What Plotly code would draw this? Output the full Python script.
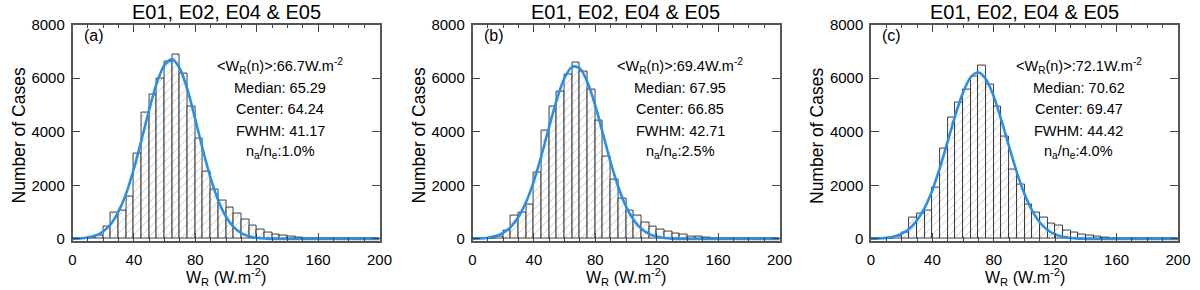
import plotly.graph_objects as go

# ---------------- data ----------------
bin_left = list(range(0, 200, 5))          # histogram bin left edges (width 5)
bin_width = 5

counts_a = [0, 25, 50, 112, 460, 1000, 1050, 1600, 3190, 4720,
            5400, 5990, 6610, 6880, 6170, 4950, 3750, 2500, 1830, 1420,
            1180, 950, 710, 500, 360, 250, 175, 115, 75, 50,
            37, 25, 15, 10, 8, 5, 3, 2, 1, 0]
counts_b = [0, 10, 30, 90, 310, 890, 990, 1290, 2480, 4040,
            4930, 5510, 6135, 6600, 6230, 5590, 4430, 3070, 2220, 1515,
            1060, 890, 610, 480, 340, 270, 210, 150, 110, 80,
            55, 35, 25, 15, 10, 6, 4, 2, 1, 0]
counts_c = [0, 10, 30, 100, 250, 795, 956, 1056, 1925, 3380,
            4520, 5080, 5580, 6050, 6460, 5760, 4930, 3830, 2600, 2020,
            1290, 990, 810, 590, 520, 300, 250, 175, 112, 85,
            50, 35, 20, 12, 8, 5, 3, 2, 1, 0]

curve_x = list(range(0, 205, 5))
curve_a = [8, 22, 55, 130, 280, 560, 1030, 1700, 2620, 3700,
           4830, 5830, 6500, 6700, 6350, 5550, 4460, 3310, 2270, 1430,
           830, 445, 220, 100, 42, 16, 6, 2, 0, 0,
           0, 0, 0, 0, 0, 0, 0, 0, 0, 0, 0]
curve_b = [7, 19, 48, 110, 232, 455, 830, 1390, 2170, 3130,
           4200, 5220, 6010, 6430, 6360, 5840, 4970, 3920, 2860, 1940,
           1215, 710, 380, 190, 88, 38, 15, 5, 2, 0,
           0, 0, 0, 0, 0, 0, 0, 0, 0, 0, 0]
curve_c = [7, 18, 43, 96, 200, 386, 696, 1170, 1830, 2680,
           3650, 4630, 5475, 6040, 6210, 5950, 5310, 4425, 3435, 2485,
           1675, 1055, 617, 337, 172, 82, 36, 15, 6, 2,
           0, 0, 0, 0, 0, 0, 0, 0, 0, 0, 0]

panel_labels = ["(a)", "(b)", "(c)"]
panel_title = "E01, E02, E04 & E05"
mean_w = ["66.7", "69.4", "72.1"]
medians = ["65.29", "67.95", "70.62"]
centers = ["64.24", "66.85", "69.47"]
fwhms = ["41.17", "42.71", "44.42"]
ratios = ["1.0", "2.5", "4.0"]

x_ticks = [0, 40, 80, 120, 160, 200]
y_ticks = [0, 2000, 4000, 6000, 8000]

# ---------------- layout constants ----------------
W, H = 1200, 290
FONT = "Liberation Sans, Arial, Helvetica, sans-serif"
BLUE = "#2A8FE6"
x_domains_px = [(72.5, 379.5), (472.5, 779.5), (871.0, 1178.0)]
y_dom = [1 - 241 / H, 1 - 24.5 / H]

fig = go.Figure()
all_counts = [counts_a, counts_b, counts_c]
all_curves = [curve_a, curve_b, curve_c]
centers_x = [l + bin_width / 2 for l in bin_left]

for i in range(3):
    xa = "x" if i == 0 else f"x{i+1}"
    ya = "y" if i == 0 else f"y{i+1}"
    fig.add_trace(go.Bar(
        x=centers_x, y=all_counts[i], width=bin_width,
        xaxis=xa, yaxis=ya,
        marker=dict(color="white",
                    line=dict(color="#2a2a2a", width=0.9),
                    pattern=dict(shape="/", fgcolor="#8f8f8f", bgcolor="white",
                                 size=6, solidity=0.15)),
        showlegend=False, hoverinfo="skip"))
    fig.add_trace(go.Scatter(
        x=curve_x, y=all_curves[i], mode="lines", xaxis=xa, yaxis=ya,
        line=dict(color=BLUE, width=2.6, shape="spline", smoothing=0.8),
        showlegend=False, hoverinfo="skip"))

layout = dict(
    width=W, height=H,
    margin=dict(l=0, r=0, t=0, b=0, autoexpand=False),
    paper_bgcolor="white", plot_bgcolor="white",
    font=dict(family=FONT, size=15, color="black"),
    bargap=0,
)
for i in range(3):
    sfx = "" if i == 0 else str(i + 1)
    x0, x1 = x_domains_px[i]
    layout["xaxis" + sfx] = dict(
        domain=[x0 / W, x1 / W], range=[0, 200], anchor="y" + sfx,
        tickvals=x_ticks, ticks="inside", ticklen=8, tickwidth=1, tickcolor="#444",
        minor=dict(ticks="inside", dtick=10, ticklen=4, tickcolor="#444", tickwidth=1),
        showline=True, linecolor="#555", linewidth=1.5, mirror="allticks",
        showgrid=False, zeroline=False, ticklabelstandoff=4, automargin=False,
        tickfont=dict(family=FONT, size=15))
    layout["yaxis" + sfx] = dict(
        domain=y_dom, range=[-75, 8000], anchor="x" + sfx,
        tickvals=y_ticks, ticks="inside", ticklen=8, tickwidth=1, tickcolor="#444",
        showline=True, linecolor="#555", linewidth=1.5, mirror="allticks",
        showgrid=False, zeroline=False, ticklabelstandoff=3, automargin=False,
        tickfont=dict(family=FONT, size=15))
fig.update_layout(**layout)

ann = []
for i in range(3):
    sfx = "" if i == 0 else str(i + 1)
    x0, x1 = x_domains_px[i]
    cx = (x0 + x1) / 2 / W
    # title
    ann.append(dict(text=panel_title, xref="paper", yref="paper", x=cx, y=1 - 12 / H,
                    xanchor="center", yanchor="middle", showarrow=False,
                    font=dict(family=FONT, size=20)))
    # x axis title
    ann.append(dict(text="W<sub>R</sub> (W.m<sup>-2</sup>)", xref="paper", yref="paper",
                    x=cx, y=1 - 277 / H, xanchor="center", yanchor="middle",
                    showarrow=False, font=dict(family=FONT, size=16)))
    # y axis title
    ann.append(dict(text="Number of Cases", xref="paper", yref="paper",
                    x=(x0 - 54) / W, y=1 - 136 / H, xanchor="center", yanchor="middle",
                    textangle=-90, showarrow=False, font=dict(family=FONT, size=17.5)))
    # panel label
    ann.append(dict(text=panel_labels[i], xref="x" + sfx, yref="y" + sfx,
                    x=6.0, y=7600, xanchor="left", yanchor="middle",
                    showarrow=False, font=dict(family=FONT, size=16)))
    lines = [f"&lt;W<sub>R</sub>(n)&gt;:{mean_w[i]}W.m<sup>-2</sup>",
             f"Median: {medians[i]}",
             f"Center: {centers[i]}",
             f"FWHM: {fwhms[i]}",
             f"n<sub>a</sub>/n<sub>e</sub>:{ratios[i]}%"]
    ys = [6455, 5636, 4831, 4023, 3230]
    for t, yv in zip(lines, ys):
        ann.append(dict(text=t, xref="x" + sfx, yref="y" + sfx, x=135.5, y=yv,
                        xanchor="center", yanchor="middle", showarrow=False,
                        font=dict(family=FONT, size=14.5)))
fig.update_layout(annotations=ann)

fig.write_html("out.html", config={"responsive": False, "displayModeBar": False},
               post_script="document.body.style.margin='0';document.body.style.overflow='hidden';")
